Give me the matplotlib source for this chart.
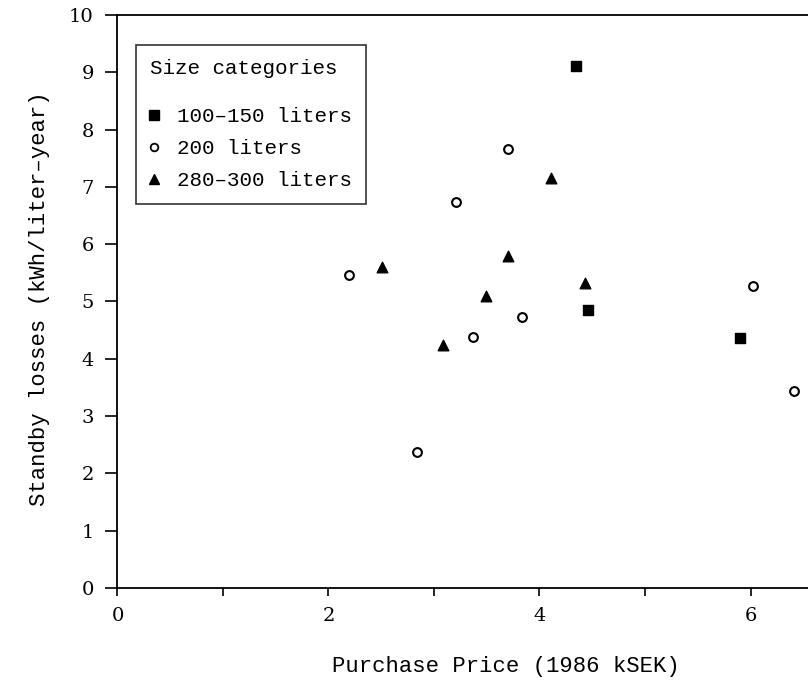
import matplotlib
matplotlib.use("Agg")
import matplotlib.pyplot as plt
from matplotlib.lines import Line2D
from matplotlib.ticker import MultipleLocator

# wide typewriter-like serif, closest to the old printout
plt.rcParams['font.family'] = ['Liberation Mono', 'DejaVu Sans Mono']

# size categories (purchase price kSEK, standby losses kWh/liter-year)
small_x = [4.35, 4.46, 5.90]
small_y = [9.11, 4.85, 4.36]

mid_x = [2.19, 2.84, 3.21, 3.37, 3.70, 3.83, 6.02, 6.41]
mid_y = [5.46, 2.37, 6.74, 4.38, 7.66, 4.73, 5.27, 3.44]

large_x = [2.51, 3.09, 3.49, 3.70, 4.11, 4.43]
large_y = [5.60, 4.24, 5.10, 5.79, 7.16, 5.32]

labels = ['100\u2013150 liters', '200 liters', '280\u2013300 liters']

fig = plt.figure(figsize=(8.08, 6.81), dpi=100)
ax = fig.add_axes([0.1454, 0.1366, 0.8546, 0.8414])

ax.scatter(small_x, small_y, marker='s', s=62, color='black', zorder=3)
ax.scatter(mid_x, mid_y, marker='o', s=40, facecolors='white',
           edgecolors='black', linewidths=1.5, zorder=3)
ax.scatter(large_x, large_y, marker='^', s=58, color='black', zorder=3)

ax.set_xlim(0, 6.545)
ax.set_ylim(0, 10)
ax.xaxis.set_major_locator(MultipleLocator(2))
ax.xaxis.set_minor_locator(MultipleLocator(1))
ax.yaxis.set_major_locator(MultipleLocator(1))

ax.spines['right'].set_visible(False)
for side in ['left', 'bottom', 'top']:
    ax.spines[side].set_linewidth(1.3)

ax.tick_params(axis='x', which='both', direction='out', length=6, width=1.2,
               labelsize=14, pad=8)
ax.tick_params(axis='y', direction='out', length=9, width=1.2,
               labelsize=14, pad=8)
# serif digits on the ticks
for lab in ax.get_xticklabels() + ax.get_yticklabels():
    lab.set_family('DejaVu Serif')

ax.set_xlabel('Purchase Price (1986 kSEK)', fontsize=16)
ax.xaxis.set_label_coords(0.5626, -0.118)
ax.set_ylabel('Standby losses (kWh/liter\u2013year)', fontsize=16)
ax.yaxis.set_label_coords(-0.098, 0.505)

handles = [
    Line2D([], [], linestyle='none', marker='s', markersize=6.5, color='black'),
    Line2D([], [], linestyle='none', marker='o', markersize=5.5,
           markerfacecolor='white', markeredgecolor='black', markeredgewidth=1.3),
    Line2D([], [], linestyle='none', marker='^', markersize=7, color='black'),
]
leg = ax.legend(handles, labels, title='Size categories', loc='upper left',
                bbox_to_anchor=(0.0268, 0.9476), borderaxespad=0,
                fontsize=15, title_fontsize=15,
                frameon=True, fancybox=False, edgecolor='black',
                handlelength=0.35, handletextpad=0.95, labelspacing=0.62,
                borderpad=0.68, alignment='left')
leg.get_frame().set_linewidth(1.2)
leg._legend_box.sep = 21

fig.savefig('out.png', dpi=100)
